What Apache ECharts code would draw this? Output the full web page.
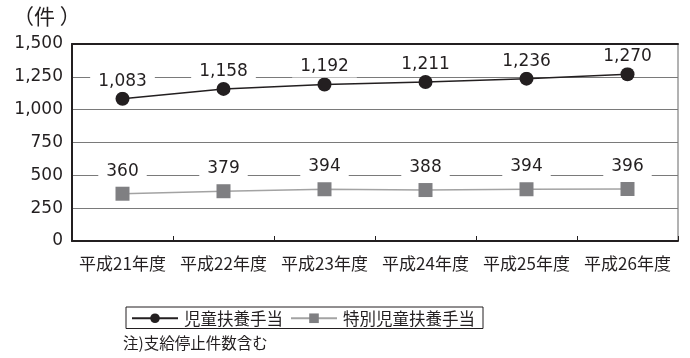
<!DOCTYPE html>
<html>
<head>
<meta charset="utf-8">
<script src="https://cdn.jsdelivr.net/npm/echarts@6/dist/echarts.min.js"></script>
<style>
  html, body { margin: 0; padding: 0; background: #fff; }
  #chart { width: 690px; height: 358px; }
</style>
</head>
<body>
<div id="chart"></div>
<script>
// 年度
var years = ['平成21年度', '平成22年度', '平成23年度', '平成24年度', '平成25年度', '平成26年度'];
// 児童扶養手当
var jidou = [1083, 1158, 1192, 1211, 1236, 1270];
// 特別児童扶養手当
var tokubetsu = [360, 379, 394, 388, 394, 396];
var yTicks = [0, 250, 500, 750, 1000, 1250, 1500];

var ink = '#231f20';
var numFont = 'DejaVu Sans';
var jpFont = 'Noto Sans CJK JP';

function fmt(v) {
    return String(v).replace(/\B(?=(\d{3})+(?!\d))/g, ',');
}

var myChart = echarts.init(document.getElementById('chart'));
option = {
    animation: false,
    backgroundColor: '#fff',
    grid: {
        left: 72, right: 12, top: 44, bottom: 117,
        show: true, borderColor: '#666', borderWidth: 1
    },
    graphic: [
        { type: 'text', left: 13, top: 6,
          style: { text: '（件 ）', fontFamily: jpFont, fontSize: 21, fill: ink } },
        { type: 'text', left: 123, top: 335,
          style: { text: '注)支給停止件数含む', fontFamily: jpFont, fontSize: 15.5, fill: ink } }
    ],
    legend: {
        left: 126, top: 307,
        orient: 'horizontal',
        borderColor: ink, borderWidth: 1,
        padding: [3, 8, 2, 5],
        itemWidth: 46, itemHeight: 12, itemGap: 7,
        textStyle: { fontFamily: jpFont, fontSize: 16.5, color: ink, padding: [0, 0, 0, 1] },
        data: ['児童扶養手当', '特別児童扶養手当']
    },
    xAxis: [
        {
            type: 'category',
            data: years,
            axisLine: { lineStyle: { color: ink, width: 2 } },
            axisTick: { show: true, inside: true, length: 5, lineStyle: { color: ink, width: 1 } },
            axisLabel: { interval: 0, margin: 14, fontFamily: jpFont, fontSize: 17, color: ink }
        },
        {
            type: 'category',
            position: 'top',
            data: years,
            axisLine: { lineStyle: { color: ink, width: 2 } },
            axisTick: { show: false },
            axisLabel: { show: false }
        }
    ],
    yAxis: {
        type: 'value',
        min: yTicks[0], max: yTicks[yTicks.length - 1], interval: 250,
        axisLine: { show: true, lineStyle: { color: ink, width: 2 } },
        axisTick: { show: false },
        axisLabel: { margin: 9, fontFamily: numFont, fontSize: 17, color: ink, formatter: fmt },
        splitLine: { lineStyle: { color: '#7a7a7a', width: 1 } }
    },
    series: [
        {
            name: '児童扶養手当',
            type: 'line',
            data: jidou,
            symbol: 'circle',
            symbolSize: 14,
            itemStyle: { color: ink },
            lineStyle: { color: ink, width: 1.5 },
            label: {
                show: true, position: 'top', distance: 0,
                fontFamily: numFont, fontSize: 17, color: ink,
                backgroundColor: '#fff', padding: [2, 8],
                formatter: function (p) { return fmt(p.value); }
            },
            z: 3
        },
        {
            name: '特別児童扶養手当',
            type: 'line',
            data: tokubetsu,
            symbol: 'rect',
            symbolSize: 14,
            itemStyle: { color: '#7f7f82' },
            lineStyle: { color: '#a3a3a3', width: 1.5 },
            label: {
                show: true, position: 'top', distance: 5,
                fontFamily: numFont, fontSize: 17, color: ink,
                backgroundColor: '#fff', padding: [2, 8],
                formatter: function (p) { return fmt(p.value); }
            },
            z: 3
        }
    ]
};
myChart.setOption(option);
</script>
</body>
</html>
